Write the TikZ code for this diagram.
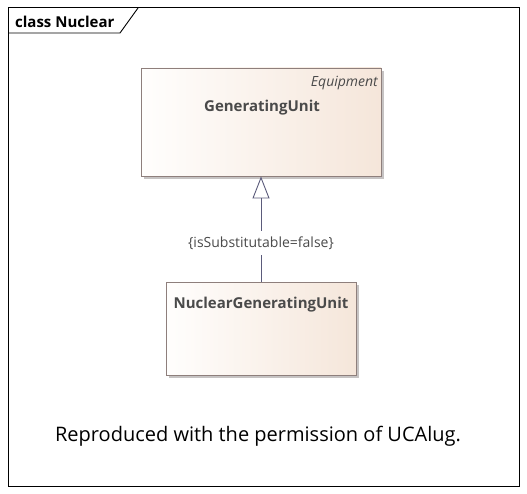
\documentclass[tikz,border=0pt]{standalone}
\usepackage{fontspec}
\setmainfont{Open Sans}
\usetikzlibrary{arrows.meta,shadows}
\definecolor{boxborder}{HTML}{8E7F7C}
\definecolor{boxleft}{HTML}{FFFEFD}
\definecolor{boxright}{HTML}{F5E6DA}
\definecolor{txt}{HTML}{4A4A4A}
\definecolor{conn}{HTML}{5B5B7B}
\definecolor{shadowgrey}{HTML}{C6C3C3}
\pgfdeclarehorizontalshading{boxshade}{100bp}{color(0bp)=(boxleft); color(25bp)=(boxleft); color(75bp)=(boxright); color(100bp)=(boxright)}
\begin{document}
\begin{tikzpicture}[x=1pt,y=-1pt,
  classbox/.style={draw=boxborder, line width=0.9pt, shading=boxshade,
    inner sep=0pt,
    drop shadow={shadow xshift=3pt, shadow yshift=-3pt, fill=shadowgrey, opacity=1}},
  classname/.style={text=txt, font=\bfseries\fontsize{15}{18}\selectfont, inner sep=0pt},
  stereo/.style={text=txt, font=\itshape\fontsize{14}{17}\selectfont, inner sep=0pt},
  gen/.style={draw=conn, line width=0.9pt, -{Triangle[open, length=22pt, width=17pt, fill=white]}},
  constraint/.style={text=txt, fill=white, font=\fontsize{14}{17}\selectfont, inner xsep=2pt, inner ysep=6pt}
]
\useasboundingbox (0,0) rectangle (527,494);
\fill[white] (0,0) rectangle (527,494);
% frame
\draw[black, line width=1pt] (8,8) rectangle (519,486);
\draw[black, line width=0.9pt] (8,33) -- (120,33) -- (138,8);
\node[anchor=west, inner sep=0pt, font=\bfseries\fontsize{15}{18}\selectfont] (title) at (15,21.5) {class Nuclear};
% boxes
\node[classbox, minimum width=240pt, minimum height=108pt] (gu) at (261,122) {};
\node[classname] (guname) at (262,108) {GeneratingUnit};
\node[stereo, anchor=east] (gustereo) at (378,83) {Equipment};
\node[classbox, minimum width=190pt, minimum height=93pt] (ngu) at (261,328.5) {};
\node[classname] (nguname) at (261,305) {NuclearGeneratingUnit};
% generalization
\draw[gen] (ngu.north) -- (ngu.north |- gu.south);
\node[constraint] (cons) at (261,243) {\{isSubstitutable=false\}};
% footer
\node[inner sep=0pt, font=\fontsize{20}{24}\selectfont] (footer) at (258,436) {Reproduced with the permission of UCAlug.};
\end{tikzpicture}
\end{document}
